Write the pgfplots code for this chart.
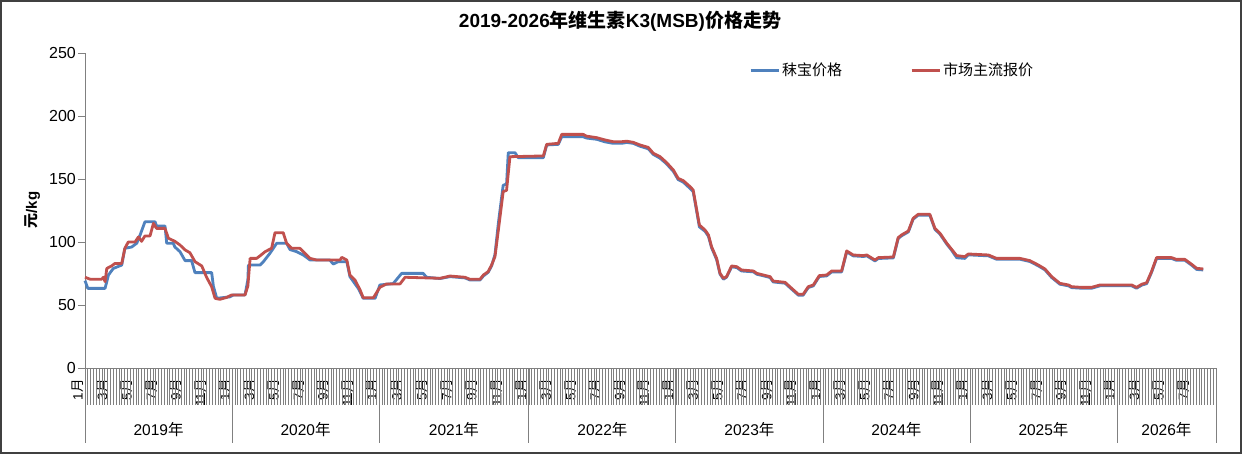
\documentclass[border=0pt]{standalone}
\usepackage{fontspec}
\setmainfont{Liberation Sans}
\newfontfamily\cjk{Noto Sans CJK SC}
\usepackage{pgfplots}
\pgfplotsset{compat=1.18}
\usepackage{pgfplotstable}
\definecolor{sblue}{HTML}{4F81BD}
\definecolor{sred}{HTML}{C0504D}
\definecolor{frame}{HTML}{404040}
\newcommand\M[1]{\fontsize{13.5bp}{15bp}\selectfont #1{\cjk 月}}
\newcommand\Y[1]{\fontsize{16bp}{18bp}\selectfont #1}

% x = week index counted from the first week of January 2019
\pgfplotstableread{
w v
0 72
1.8 70.5
5.9 70.5
6.5 72
7.1 68.5
7.7 79
9.4 81
10.6 83
13 83
14.1 95
15.3 100
17.7 100
18.9 104
20 100.5
21.2 104.8
23 104.8
24.2 114.8
25.3 110.8
28.3 110.8
29.5 103
31.8 100.5
33.6 97.6
35.4 93.7
37.1 91.5
38.9 84.4
41.3 81
43 72
44.8 64.5
46 55.3
47.7 54.5
50.1 56
51.9 58
56.6 58
57.6 65
58.4 87
60.7 87
61.9 89
63.7 92.3
66 95
67.2 107.4
70.1 107.4
71.3 99
73.1 95
76 95
77.8 91
79.6 87
81.9 85.7
90.2 85.7
90.8 87.8
92.6 85.7
93.7 73.8
95.5 69.8
97.3 61.9
98.4 55.8
102 55.8
104.3 64
106.7 66.7
111.4 66.7
113.2 72
125.6 71.2
129.1 73
134.4 72
136.2 70.4
139.7 70.4
140.9 73.8
142.6 76.5
143.8 81.7
145 88.4
146.2 109.5
147.9 140
149.1 141
150.3 167.7
162.1 168.3
163.3 177.5
167.4 178.3
168.6 185.4
176.2 185.4
177.4 184
181 182.8
183.9 181
186.8 179.6
189.8 179.6
191.6 180
193.9 179.1
196.3 177
199.2 175.1
201 170.4
203.4 167.7
205.7 163
208.1 157.1
209.8 150.5
211.6 148.7
214 143.9
215.1 141.3
217.3 113.5
219.3 109.5
220.5 105.6
221.6 96.3
223.4 87
224.6 75.1
225.8 71.2
226.9 72.5
228.7 81
230.5 80.4
232.2 77.8
236.4 77
237.6 75.1
239.9 73.8
242.3 72.5
243.4 69
247.6 68
249.3 64.5
252.3 58.5
254 58.5
255.8 64.5
257.6 65.9
259.7 73.3
262.3 73.8
264.1 77
267.6 77
269.4 92.9
271.7 89.7
275.3 89.2
276.5 89.7
279.4 85.7
280.6 87.6
285.9 88.1
287.6 103.4
288.8 105.6
291.2 108.7
292.9 118.8
294.7 122
298.8 122
300.6 110.8
302.4 106.9
304.8 99
306.5 94.2
308.3 89.2
311.2 88.4
312.4 90.5
319.5 89.7
322.4 87
330.7 87
334.2 85.2
337.2 81.7
339.5 78.6
341.9 72.5
344.8 67.2
347.8 65.9
349 64.5
352.5 64
356 64
359 65.9
370.2 65.9
371.9 64
373.7 66.4
375.5 67.7
377.2 76.5
379 87.6
384.3 87.6
386 86.2
389 86.2
391.4 82.3
393.2 79.1
395.5 78.6
}\redtab

\pgfplotstableread{
w v
0 69.3
1 63.2
7.1 63.2
8.3 73.8
10 79
13 81.7
14.1 95
16.5 96
18.3 99
19.5 105.6
21.2 116
24.8 116
25.3 112.7
28.3 112.7
28.9 99
31.2 99
31.8 96
33.6 92.3
35.4 85.2
37.7 85.2
38.9 75.7
44.8 75.7
45.4 65
46.6 55.3
51.3 56.5
52.5 58
56.6 58
57.6 70
57.8 81.7
61.9 81.7
63.1 84.4
65.4 91
67.8 99
71.3 99
72.5 94
74.9 92.3
77.2 89.7
79.6 85.7
86.6 85.7
87.8 82.5
89.6 84.4
92.6 84.4
93.7 72.5
96.7 63
98.4 55.3
102.6 55.3
104.3 65.9
109 67
112 75.1
119.6 75.1
120.8 72
125.6 71
129.1 72.5
134.4 71.5
136.2 69.8
139.7 69.8
140.9 73
142.6 76
143.8 81
145 90
146.2 115
147.9 145
149.1 146
149.7 170.9
152.1 170.9
153.2 166.9
162.1 166.9
163.3 177
167.4 177.5
168.6 183.5
176.2 183.5
177.4 182.5
181 181.5
183.9 179.5
186.8 178.3
189.8 178.3
191.6 179
193.9 178.3
196.3 176
199.2 174
201 169.5
203.4 166.5
205.7 162
208.1 156
209.8 149.5
211.6 147.5
214 142.5
215.1 140
217.3 112
219.3 108.5
220.5 104.5
221.6 95.5
223.4 86
224.6 74.5
225.8 70.5
226.9 72
228.7 80.3
230.5 79.7
232.2 77
236.4 76.3
237.6 74.4
239.9 73.2
242.3 71.8
243.4 68.3
247.6 67.3
249.3 63.8
252.3 57.8
254 57.8
255.8 63.8
257.6 65.2
259.7 72.6
262.3 73.1
264.1 76.3
267.6 76.3
269.4 92.2
271.7 89
275.3 88.5
276.5 89
279.4 85
280.6 86.9
285.9 87.4
287.6 102.7
288.8 104.9
291.2 108
292.9 118.1
294.7 121.3
298.8 121.3
300.6 110.1
302.4 106.2
304.8 98.3
306.5 93.5
308.3 87.5
311.2 87
312.4 89.8
319.5 89
322.4 86.3
330.7 86.3
334.2 84.5
337.2 81
339.5 77.9
341.9 71.8
344.8 66.5
347.8 65.2
349 63.8
352.5 63.3
356 63.3
359 65.2
370.2 65.2
371.9 63.3
373.7 65.7
375.5 67
377.2 75.8
379 86.9
384.3 86.9
386 85.5
389 85.5
391.4 81.6
393.2 78.2
395.5 77.8
}\bluetab

\begin{document}
\begin{tikzpicture}
\useasboundingbox (0,0) rectangle (1242bp,454bp);
\fill[white] (0,0) rectangle (1242bp,454bp);
\draw[line width=2bp, draw=frame] (1bp,1bp) rectangle (1241bp,453bp);
\begin{axis}[
  at={(85bp,86bp)}, anchor=south west,
  scale only axis, width=1131bp, height=315bp,
  xmin=0, xmax=400, ymin=0, ymax=250,
  clip=false,
  axis lines*=left,
  axis line style={draw=gray, line width=0.9bp},
  ytick={0,50,...,250},
  yticklabels={\Y{0},\Y{50},\Y{100},\Y{150},\Y{200},\Y{250}},
  tick align=outside,
  major tick length=7bp,
  ytick style={draw=gray, line width=0.9bp},
  xtick={0,8.67,17.33,26,34.67,43.33,
         52,60.67,69.33,78,86.67,95.33,
         104,112.83,121.67,130.5,139.33,148.17,
         157,165.67,174.33,183,191.67,200.33,
         209,217.67,226.33,235,243.67,252.33,
         261,269.67,278.33,287,295.67,304.33,
         313,321.67,330.33,339,347.67,356.33,
         365,373.67,382.33,391},
  xticklabels={\M1,\M3,\M5,\M7,\M9,\M{11},
               \M1,\M3,\M5,\M7,\M9,\M{11},
               \M1,\M3,\M5,\M7,\M9,\M{11},
               \M1,\M3,\M5,\M7,\M9,\M{11},
               \M1,\M3,\M5,\M7,\M9,\M{11},
               \M1,\M3,\M5,\M7,\M9,\M{11},
               \M1,\M3,\M5,\M7,\M9,\M{11},
               \M1,\M3,\M5,\M7},
  xtick style={draw=none},
  yticklabel style={inner sep=2bp},
  xticklabel style={yshift=-3bp, rotate=90, anchor=south east, inner sep=1.2bp, fill=white},
  legend columns=2,
  legend style={at={(0.5845,0.946)}, anchor=west, draw=none, fill=none,
    font=\fontsize{15bp}{18bp}\selectfont,
    /tikz/every even column/.append style={column sep=66bp}},
  legend image code/.code={\draw[#1, line width=3bp] (0bp,0bp) -- (28bp,0bp);},
]
\pgfplotsinvokeforeach{0,...,400}{\draw[gray, line width=0.7bp] (axis cs:#1,0) -- ++(0,-37bp);}
\pgfplotsinvokeforeach{0,52,104,157,209,261,313,365,400}{\draw[gray, line width=0.9bp] (axis cs:#1,0) -- ++(0,-75bp);}
\addplot[sblue, line width=2.8bp, line join=round] table[x=w,y=v] {\bluetab};
\addlegendentry{{\cjk 秣宝价格}}
\addplot[sred, line width=2.8bp, line join=round] table[x=w,y=v] {\redtab};
\addlegendentry{{\cjk 市场主流报价}}
\node[font=\fontsize{15.5bp}{18bp}\selectfont, yshift=-62bp] at (axis cs:26,0) {2019{\cjk 年}};
\node[font=\fontsize{15.5bp}{18bp}\selectfont, yshift=-62bp] at (axis cs:78,0) {2020{\cjk 年}};
\node[font=\fontsize{15.5bp}{18bp}\selectfont, yshift=-62bp] at (axis cs:130.5,0) {2021{\cjk 年}};
\node[font=\fontsize{15.5bp}{18bp}\selectfont, yshift=-62bp] at (axis cs:183,0) {2022{\cjk 年}};
\node[font=\fontsize{15.5bp}{18bp}\selectfont, yshift=-62bp] at (axis cs:235,0) {2023{\cjk 年}};
\node[font=\fontsize{15.5bp}{18bp}\selectfont, yshift=-62bp] at (axis cs:287,0) {2024{\cjk 年}};
\node[font=\fontsize{15.5bp}{18bp}\selectfont, yshift=-62bp] at (axis cs:339,0) {2025{\cjk 年}};
\node[font=\fontsize{15.5bp}{18bp}\selectfont, yshift=-62bp] at (axis cs:382.5,0) {2026{\cjk 年}};
\end{axis}
\node[font=\bfseries\fontsize{19bp}{22bp}\selectfont] at (620bp,433bp) {2019-2026{\cjk 年维生素}K3(MSB){\cjk 价格走势}};
\node[rotate=90, font=\bfseries\fontsize{15bp}{18bp}\selectfont] at (32.5bp,244bp) {{\cjk 元}/kg};
\end{tikzpicture}
\end{document}
